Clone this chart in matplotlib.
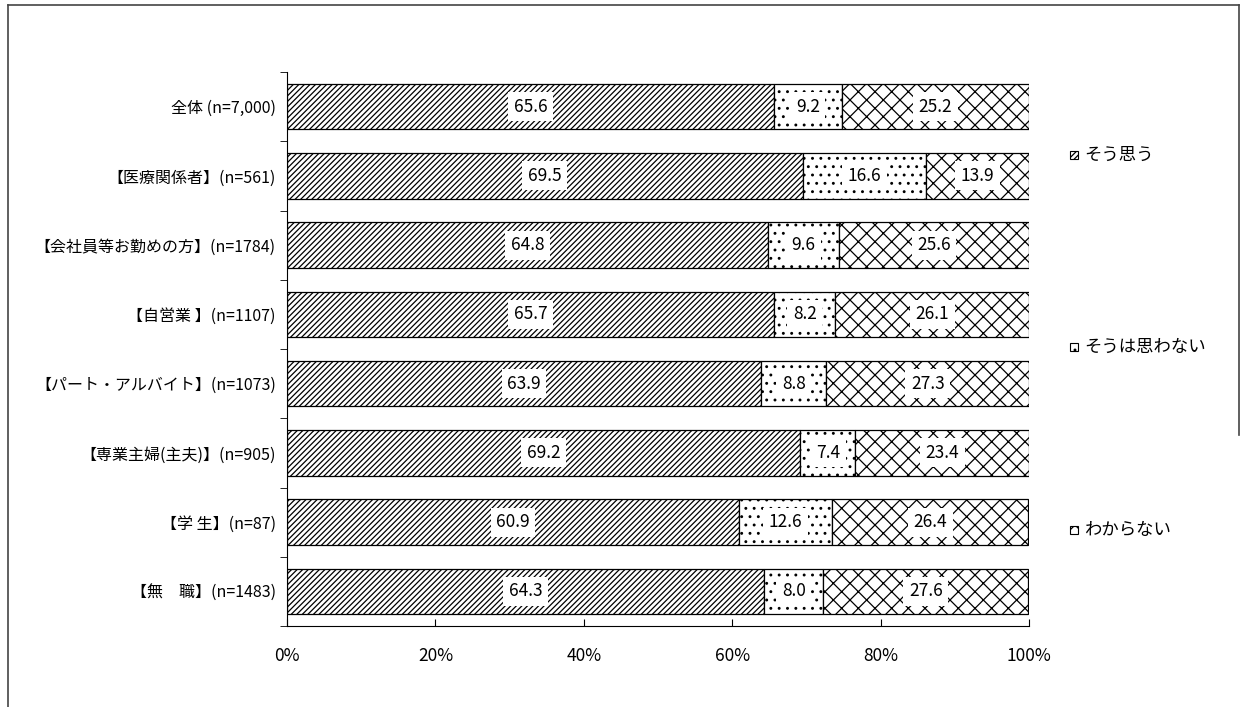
import numpy as np
import matplotlib.pyplot as plt
from matplotlib.patches import Rectangle
from matplotlib.lines import Line2D

plt.rcParams['font.family'] = ['Noto Sans CJK JP', 'DejaVu Sans']
plt.rcParams['hatch.linewidth'] = 0.9

# Data
categories = ["全体 (n=7,000)", "【医療関係者】(n=561)", "【会社員等お勤めの方】(n=1784)",
              "【自営業 】(n=1107)", "【パート・アルバイト】(n=1073)", "【専業主婦(主夫)】(n=905)",
              "【学 生】(n=87)", "【無　職】(n=1483)"]
sou_omou = [65.6, 69.5, 64.8, 65.7, 63.9, 69.2, 60.9, 64.3]
sou_omowanai = [9.2, 16.6, 9.6, 8.2, 8.8, 7.4, 12.6, 8.0]
wakaranai = [25.2, 13.9, 25.6, 26.1, 27.3, 23.4, 26.4, 27.6]
series_names = ["そう思う", "そうは思わない", "わからない"]
hatches = ["//////", "..", "xx"]

fig = plt.figure(figsize=(12.42, 7.07), dpi=100)
ax = fig.add_axes([287/1242, 1-626/707, (1029-287)/1242, (626-72)/707])

y = np.arange(len(categories))
left = np.zeros(len(categories))
for vals, h in zip([sou_omou, sou_omowanai, wakaranai], hatches):
    vals = np.array(vals)
    ax.barh(y, vals, left=left, height=0.66, color='white', edgecolor='black',
            hatch=h, linewidth=0.9)
    for yi, l, v in zip(y, left, vals):
        ax.text(l + v/2, yi, "%.1f" % v, ha='center', va='center', fontsize=12.5,
                bbox=dict(facecolor='white', edgecolor='none', pad=4))
    left = left + vals

ax.set_xlim(0, 100)
ax.set_ylim(len(categories) - 0.5, -0.5)
ax.set_yticks(y)
ax.set_yticklabels(categories, fontsize=11.5)
ax.set_yticks(np.arange(len(categories) + 1) - 0.5, minor=True)
ax.tick_params(axis='y', which='major', length=0, pad=8)
ax.tick_params(axis='y', which='minor', length=5, direction='out')
ax.set_xticks(np.arange(0, 101, 20))
ax.set_xticklabels(["%d%%" % t for t in range(0, 101, 20)], fontsize=12.5)
ax.tick_params(axis='x', direction='in', length=5, pad=15)
ax.spines['top'].set_visible(False)
ax.spines['right'].set_visible(False)

# legend drawn by hand
leg_y = [1-155/707, 1-347/707, 1-530/707]
for name, h, ly in zip(series_names, hatches, leg_y):
    fig.patches.append(Rectangle((1070/1242, ly - 4/707), 8/1242, 8/707,
                                 transform=fig.transFigure, facecolor='white',
                                 edgecolor='black', hatch=h, linewidth=0.8))
    fig.text(1084/1242, ly, name, fontsize=12.5, va='center', ha='left')

# outer frame
fig.add_artist(Line2D([8/1242, 1239/1242], [1-5/707, 1-5/707], color='#444444', lw=1.2))
fig.add_artist(Line2D([8/1242, 8/1242], [1-5/707, 0], color='#444444', lw=1.2))
fig.add_artist(Line2D([1239/1242, 1239/1242], [1-5/707, 1-435/707], color='#444444', lw=1.2))

plt.savefig("out.png", dpi=100)
